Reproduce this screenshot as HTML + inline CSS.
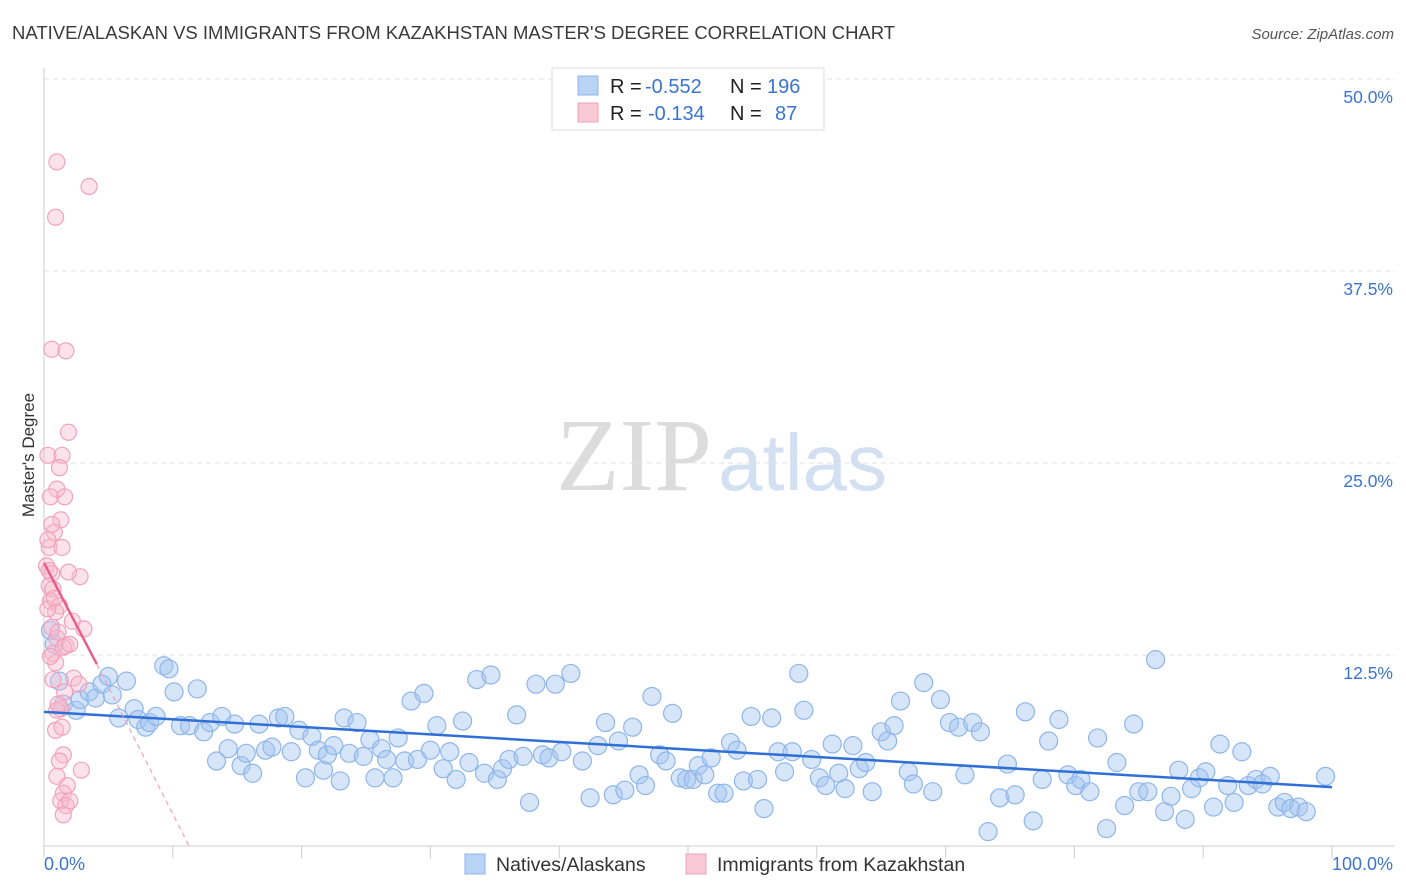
<!DOCTYPE html>
<html><head><meta charset="utf-8"><style>
body{margin:0;background:#fff;font-family:"Liberation Sans",sans-serif;}
svg{display:block}
</style></head><body>
<svg id="chart" width="1406" height="892">
<text x="12" y="39" font-size="18.5" fill="#3a3a3a">NATIVE/ALASKAN VS IMMIGRANTS FROM KAZAKHSTAN MASTER'S DEGREE CORRELATION CHART</text>
<text x="1394" y="39" font-size="15" fill="#555" text-anchor="end" font-style="italic">Source: ZipAtlas.com</text>
<g>
<text x="712" y="490" font-size="104" font-family="Liberation Serif, serif" fill="#dcdcdc" text-anchor="end">ZIP</text>
<text x="718" y="490" font-size="80" fill="#d3e0f2">atlas</text>
</g>
<g id="grid"></g>
<g id="axes"></g>
<g id="pts"></g>
<g id="trend"></g>
<text transform="translate(34,455) rotate(-90)" font-size="17" fill="#333" text-anchor="middle">Master's Degree</text>
<g>
<rect x="552" y="68" width="272" height="62" fill="#fff" stroke="#ddd"/>
<rect x="578" y="76" width="20" height="19" fill="#b9d3f5" stroke="#8bb4e8"/>
<rect x="578" y="103" width="20" height="19" fill="#f9c9d7" stroke="#f0a0b8"/>
<text x="610" y="93" font-size="20" fill="#222">R = <tspan fill="#3b74d0" x="645">-0.552</tspan><tspan x="730">N = </tspan><tspan fill="#3b74d0" x="767">196</tspan></text>
<text x="610" y="120" font-size="20" fill="#222">R = <tspan fill="#3b74d0" x="648">-0.134</tspan><tspan x="730">N = </tspan><tspan fill="#3b74d0" x="775">87</tspan></text>
</g>
<g>
<rect x="465" y="854" width="20" height="20" fill="#b9d3f5" stroke="#8bb4e8"/>
<text x="496" y="871" font-size="19.5" fill="#333">Natives/Alaskans</text>
<rect x="686" y="854" width="20" height="20" fill="#f9c9d7" stroke="#f0a0b8"/>
<text x="717" y="871" font-size="19.5" fill="#333">Immigrants from Kazakhstan</text>
</g>
</svg>
<script>
const yTicks=[12.5,25,37.5,50];
const yTickLabels=["12.5%","25.0%","37.5%","50.0%"];
const xTickVals=[0,10,20,30,40,50,60,70,80,90,100];
const blue=[[0.5,14.1],[0.8,13.2],[1.2,10.8],[1.5,9.3],[2.5,8.9],[2.8,9.6],[3.5,10.1],[4.0,9.7],[4.5,10.6],[5.0,11.1],[5.3,9.9],[5.8,8.4],[6.4,10.8],[7.0,9.0],[7.3,8.3],[7.9,7.8],[8.2,8.1],[8.7,8.5],[9.3,11.8],[9.7,11.6],[10.1,10.1],[10.6,7.9],[11.3,7.9],[11.9,10.3],[12.4,7.5],[12.9,8.1],[13.4,5.6],[13.8,8.5],[14.3,6.4],[14.8,8.0],[15.3,5.3],[15.7,6.1],[16.2,4.8],[16.7,8.0],[17.2,6.3],[17.7,6.5],[18.2,8.4],[18.7,8.5],[19.2,6.2],[19.8,7.6],[20.3,4.5],[20.8,7.2],[21.3,6.3],[21.7,5.0],[22.0,6.0],[22.5,6.6],[23.0,4.3],[23.3,8.4],[23.7,6.1],[24.3,8.1],[24.8,5.9],[25.3,7.0],[25.7,4.5],[26.2,6.4],[26.6,5.7],[27.1,4.5],[27.5,7.1],[28.0,5.6],[28.5,9.5],[29.0,5.7],[29.5,10.0],[30.0,6.3],[30.5,7.9],[31.0,5.1],[31.5,6.2],[32.0,4.4],[32.5,8.2],[33.0,5.5],[33.6,10.9],[34.2,4.8],[34.7,11.2],[35.2,4.4],[35.6,5.1],[36.1,5.7],[36.7,8.6],[37.2,5.9],[37.7,2.9],[38.2,10.6],[38.7,6.0],[39.2,5.8],[39.7,10.6],[40.2,6.2],[40.9,11.3],[41.8,5.6],[42.4,3.2],[43.0,6.6],[43.6,8.1],[44.2,3.4],[44.6,6.9],[45.1,3.7],[45.7,7.8],[46.2,4.7],[46.7,4.0],[47.2,9.8],[47.8,6.0],[48.3,5.6],[48.8,8.7],[49.4,4.5],[49.9,4.4],[50.4,4.4],[50.8,5.3],[51.3,4.7],[51.8,5.8],[52.3,3.5],[52.8,3.5],[53.3,6.8],[53.8,6.3],[54.3,4.3],[54.9,8.5],[55.4,4.4],[55.9,2.5],[56.5,8.4],[57.0,6.2],[57.5,4.9],[58.1,6.2],[58.6,11.3],[59.0,8.9],[59.6,5.7],[60.2,4.5],[60.7,4.0],[61.2,6.7],[61.7,4.8],[62.2,3.8],[62.8,6.6],[63.3,5.1],[63.8,5.5],[64.3,3.6],[65.0,7.5],[65.5,6.9],[66.0,7.9],[66.5,9.5],[67.1,4.9],[67.5,4.1],[68.3,10.7],[69.0,3.6],[69.6,9.6],[70.3,8.1],[71.0,7.8],[71.5,4.7],[72.1,8.1],[72.7,7.5],[73.3,1.0],[74.2,3.2],[74.8,5.4],[75.4,3.4],[76.2,8.8],[76.8,1.7],[77.5,4.4],[78.0,6.9],[78.8,8.3],[79.5,4.7],[80.1,4.0],[80.5,4.4],[81.2,3.6],[81.8,7.1],[82.5,1.2],[83.3,5.5],[83.9,2.7],[84.6,8.0],[85.0,3.6],[85.7,3.6],[86.3,12.2],[87.0,2.3],[87.5,3.3],[88.1,5.0],[88.6,1.8],[89.1,3.8],[89.7,4.5],[90.2,4.9],[90.8,2.6],[91.3,6.7],[91.9,4.0],[92.4,2.9],[93.0,6.2],[93.5,4.0],[94.1,4.4],[94.6,4.1],[95.2,4.6],[95.8,2.6],[96.3,2.9],[96.8,2.5],[97.4,2.6],[98.0,2.3],[99.5,4.6]];
const pink=[[1.0,44.6],[3.5,43.0],[0.9,41.0],[0.6,32.4],[1.7,32.3],[1.9,27.0],[0.3,25.5],[1.4,25.5],[1.2,24.7],[1.0,23.3],[1.6,22.8],[0.5,22.8],[1.3,21.3],[0.8,20.5],[0.4,19.5],[1.4,19.5],[0.2,18.3],[0.6,17.8],[2.8,17.6],[0.4,17.0],[1.9,17.9],[0.7,16.8],[0.5,16.0],[1.2,15.7],[0.9,15.3],[0.3,15.5],[2.2,14.7],[0.6,14.3],[3.1,14.2],[1.0,13.6],[1.7,13.1],[0.7,12.6],[0.9,12.0],[2.3,11.0],[2.7,10.6],[0.7,10.9],[1.6,10.1],[1.3,9.0],[1.0,8.9],[0.9,7.6],[1.4,7.8],[1.5,6.0],[1.2,5.6],[2.9,5.0],[1.0,4.6],[1.8,4.0],[1.5,3.5],[1.3,3.0],[1.7,2.7],[2.0,3.0],[1.5,2.1],[0.4,18.0],[0.8,16.2],[1.1,14.0],[0.3,20.0],[0.6,21.0],[1.5,13.0],[2.0,13.2],[0.5,12.4],[1.1,9.3]];
const blueTrend=[[0,8.8],[100,3.9]];
const pinkTrendSolid=[[0,18.5],[4.1,11.9]];
const pinkTrendDash=[[4.1,11.9],[11.3,0]];
const X=v=>44+v*12.88, Y=v=>847-v*15.36;
const NS="http://www.w3.org/2000/svg";
function mk(t,a,p){const e=document.createElementNS(NS,t);for(const k in a)e.setAttribute(k,a[k]);p.appendChild(e);return e;}
const grid=document.getElementById('grid'),axes=document.getElementById('axes'),pts=document.getElementById('pts'),tr=document.getElementById('trend');
yTicks.forEach((v,i)=>{
 const l=mk('line',{x1:44,x2:1395,y1:Y(v),y2:Y(v),stroke:'#e2e2e2','stroke-dasharray':'5,4'},grid);
 
 
 const t=mk('text',{x:1393,y:Y(v)+24,'font-size':17.5,fill:'#3b74d0','text-anchor':'end'},grid);
 t.textContent=yTickLabels[i];
 
 
});
const ya=mk('line',{x1:44,x2:44,y1:68,y2:847,stroke:'#ccc'},axes);


const xa=mk('line',{x1:44,x2:1395,y1:846,y2:846,stroke:'#ccc'},axes);


xTickVals.forEach(v=>{
 const t=mk('line',{x1:X(v),x2:X(v),y1:846,y2:858,stroke:'#ccc'},axes);
 
 
});
const xl0=mk('text',{x:44,y:870,'font-size':18,fill:'#3b74d0'},axes);xl0.textContent='0.0%';


const xl1=mk('text',{x:1393,y:870,'font-size':18,fill:'#3b74d0','text-anchor':'end'},axes);xl1.textContent='100.0%';


blue.forEach(d=>{
 const c=mk('circle',{cx:X(d[0]),cy:Y(d[1]),r:9,fill:'rgba(165,198,240,0.45)',stroke:'#8fb6ea','stroke-width':1.2},pts);
 
 
});
pink.forEach(d=>{
 const c=mk('circle',{cx:X(d[0]),cy:Y(d[1]),r:8,fill:'rgba(248,185,205,0.4)',stroke:'#f2a2bb','stroke-width':1.2},pts);
 
 
});
const bt=mk('line',{x1:X(blueTrend[0][0]),y1:Y(blueTrend[0][1]),x2:X(blueTrend[1][0]),y2:Y(blueTrend[1][1]),stroke:'#2f6fd6','stroke-width':2.5},tr);


const ps=mk('line',{x1:X(pinkTrendSolid[0][0]),y1:Y(pinkTrendSolid[0][1]),x2:X(pinkTrendSolid[1][0]),y2:Y(pinkTrendSolid[1][1]),stroke:'#e8608a','stroke-width':2.5},tr);


const pd=mk('line',{x1:X(pinkTrendDash[0][0]),y1:Y(pinkTrendDash[0][1]),x2:X(pinkTrendDash[1][0]),y2:Y(pinkTrendDash[1][1]),stroke:'#f0a0b8','stroke-width':1.2,'stroke-dasharray':'5,4'},tr);


</script>
</body></html>
